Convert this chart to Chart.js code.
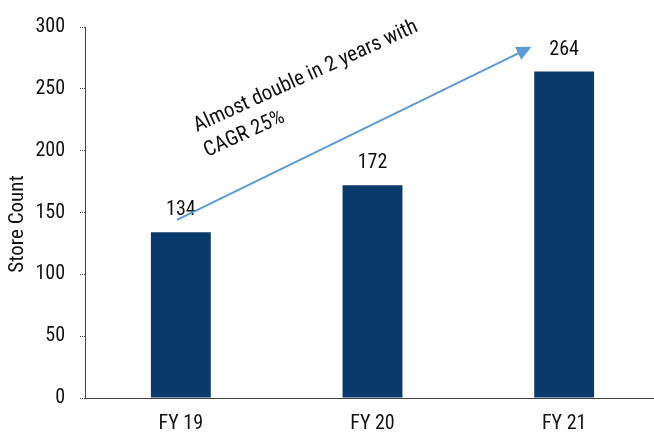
<!DOCTYPE html>
<html>
<head>
<meta charset="utf-8">
<script src="https://cdn.jsdelivr.net/npm/chart.js@4.4.1/dist/chart.umd.min.js"></script>
<style>
  html, body { margin: 0; padding: 0; background: #fff; overflow: hidden; }
  #wrap { width: 660px; height: 436px; }
</style>
</head>
<body>
<div id="wrap"><canvas id="c" width="660" height="436"></canvas></div>
<script>
// chart data
const years = ['FY 19', 'FY 20', 'FY 21'];
const storeCount = [134, 172, 264];
const yTicks = [0, 50, 100, 150, 200, 250, 300];
const yTitle = 'Store Count';

// growth arrow, in (category index, value) units
const arrowFrom = [-0.02, 144];
const arrowTo = [1.83, 284];
const noteLines = ['Almost double in 2 years with', 'CAGR 25%'];

const FONT = "'Liberation Sans Narrow', 'Roboto Condensed', 'DejaVu Sans Condensed', sans-serif";
const BAR = '#0a3a6b';
const ARROW = '#5b9bd5';

Chart.defaults.font.family = FONT;
Chart.defaults.color = '#111';

// value labels above bars + arrow + note + axis title
const annotate = {
    id: 'annotate',
    afterDatasetsDraw(chart) {
        const ctx = chart.ctx;
        const xs = chart.scales.x, ys = chart.scales.y;

        ctx.save();
        ctx.font = '20px ' + FONT;
        ctx.fillStyle = '#111';
        ctx.textAlign = 'center';
        ctx.textBaseline = 'bottom';
        chart.getDatasetMeta(0).data.forEach((bar, i) => {
            ctx.fillText(storeCount[i], bar.x, bar.y - 12);
        });

        // arrow
        const x1 = xs.getPixelForValue(arrowFrom[0]), y1 = ys.getPixelForValue(arrowFrom[1]);
        const x2 = xs.getPixelForValue(arrowTo[0]), y2 = ys.getPixelForValue(arrowTo[1]);
        const ang = Math.atan2(y2 - y1, x2 - x1);
        const head = 15;
        ctx.strokeStyle = ARROW;
        ctx.fillStyle = ARROW;
        ctx.lineWidth = 2;
        ctx.beginPath();
        ctx.moveTo(x1, y1);
        ctx.lineTo(x2 - head * 0.8 * Math.cos(ang), y2 - head * 0.8 * Math.sin(ang));
        ctx.stroke();
        ctx.beginPath();
        ctx.moveTo(x2, y2);
        ctx.lineTo(x2 - head * Math.cos(ang) + 7 * Math.sin(ang), y2 - head * Math.sin(ang) - 7 * Math.cos(ang));
        ctx.lineTo(x2 - head * Math.cos(ang) - 7 * Math.sin(ang), y2 - head * Math.sin(ang) + 7 * Math.cos(ang));
        ctx.closePath();
        ctx.fill();

        // y axis title, sits a bit below the middle of the axis
        ctx.save();
        ctx.fillStyle = '#111';
        ctx.font = '21px ' + FONT;
        ctx.textAlign = 'center';
        ctx.textBaseline = 'middle';
        ctx.translate(18, 224);
        ctx.rotate(-Math.PI / 2);
        ctx.fillText(yTitle, 0, 0);
        ctx.restore();

        // rotated note
        ctx.fillStyle = '#111';
        ctx.font = '21px ' + FONT;
        ctx.textAlign = 'left';
        ctx.textBaseline = 'alphabetic';
        ctx.translate(197, 132);
        ctx.rotate(-24.5 * Math.PI / 180);
        ctx.fillText(noteLines[0], 0, 0);
        ctx.fillText(noteLines[1], -1, 27);
        ctx.restore();
    }
};

new Chart(document.getElementById('c'), {
    type: 'bar',
    data: {
        labels: years,
        datasets: [{
            data: storeCount,
            backgroundColor: BAR,
            categoryPercentage: 1,
            barPercentage: 0.3125
        }]
    },
    options: {
        responsive: false,
        animation: false,
        layout: { padding: { top: 12, left: 0, right: 0, bottom: 0 } },
        plugins: { legend: { display: false }, tooltip: { enabled: false } },
        scales: {
            x: {
                afterFit: (s) => { s.height = 38; },
                grid: { display: true, drawOnChartArea: false, drawTicks: false },
                border: { display: true, color: '#444', width: 1, dash: [1, 1] },
                ticks: { font: { size: 20 }, color: '#111', padding: 14 }
            },
            y: {
                min: 0,
                max: 300,
                afterFit: (s) => { s.width = 85; },
                afterBuildTicks: (s) => { s.ticks = yTicks.map(v => ({ value: v })); },
                grid: { drawOnChartArea: false, tickLength: 5, color: '#444', tickBorderDash: [1, 1] },
                border: { display: true, color: '#444', width: 1, dash: [1, 1] },
                ticks: { font: { size: 20 }, color: '#111', padding: 15 }
            }
        }
    },
    plugins: [annotate]
});
</script>
</body>
</html>
